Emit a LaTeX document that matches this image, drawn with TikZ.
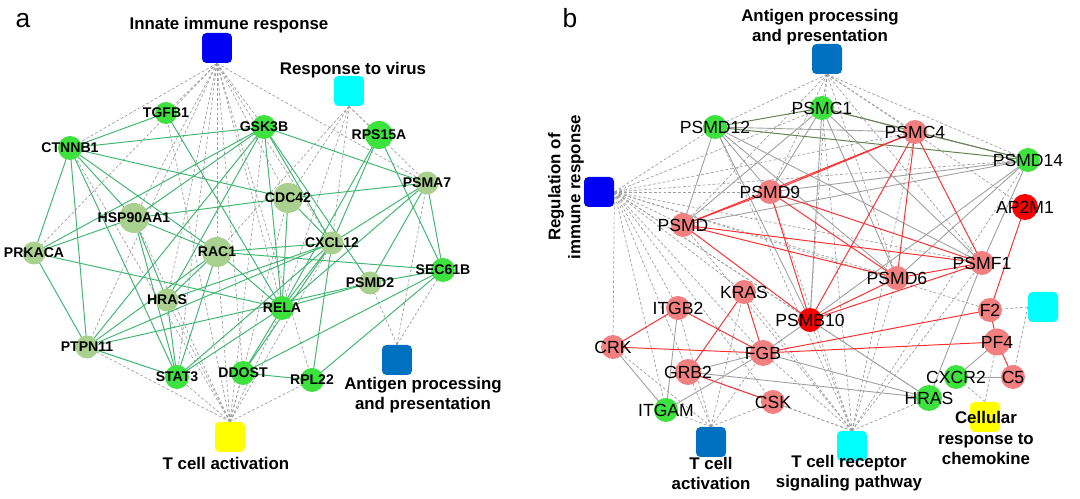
\documentclass[tikz,border=0pt]{standalone}
\usepackage{fontspec}
\setmainfont{Liberation Sans}
\usetikzlibrary{backgrounds}
\definecolor{nodegreen}{RGB}{62,226,62}
\definecolor{nodepale}{RGB}{169,208,142}
\definecolor{nodesalmon}{RGB}{242,128,128}
\definecolor{nodered}{RGB}{250,0,0}
\definecolor{boxblue}{RGB}{0,0,245}
\definecolor{boxmid}{RGB}{0,112,192}
\definecolor{boxcyan}{RGB}{0,255,255}
\definecolor{boxyellow}{RGB}{255,255,0}
\definecolor{edgegreen}{RGB}{64,182,112}
\definecolor{edgered}{RGB}{255,45,45}
\definecolor{edgeolive}{RGB}{98,128,80}
\tikzset{
  gbright/.style={circle,fill=nodegreen,minimum size=0.48cm,inner sep=0pt},
  gpale/.style={circle,fill=nodepale,minimum size=0.46cm,inner sep=0pt},
  gsal/.style={circle,fill=nodesalmon,minimum size=0.48cm,inner sep=0pt},
  gred/.style={circle,fill=nodered,minimum size=0.48cm,inner sep=0pt},
  catbox/.style={rectangle,rounded corners=2.5pt,minimum size=0.6cm,inner sep=0pt},
  alab/.style={font=\bfseries\fontsize{8}{9}\selectfont},
  blab/.style={font=\fontsize{10}{11}\selectfont},
  catlab/.style={font=\bfseries\fontsize{9.6}{11.4}\selectfont,align=center},
  gedge/.style={draw=edgegreen,line width=0.55pt},
  dedge/.style={draw=gray!75,dash pattern=on 1.6pt off 1.2pt,line width=0.4pt},
  pedge/.style={draw=gray!75,line width=0.5pt},
  redge/.style={draw=edgered,line width=0.55pt},
  oedge/.style={draw=edgeolive,line width=0.55pt}
}

\begin{document}
\begin{tikzpicture}[line join=round]
\begin{scope}[x=0.02cm,y=-0.02cm]
\path[use as bounding box] (0,0) rectangle (1080,499);
% --- panel a
\node[font=\fontsize{15}{15}\selectfont] (pa) at (23,21) {a};
\node[catbox,fill=boxblue] (innate) at (217,48) {};
\node[catlab] (innatelab) at (229,25) {Innate immune response};
\node[catbox,fill=boxcyan] (virus) at (349,91) {};
\node[catlab] (viruslab) at (353,70) {Response to virus};
\node[catbox,fill=boxmid] (antiga) at (397,360) {};
\node[catlab] (antigalab) at (423,395) {Antigen processing\\and presentation};
\node[catbox,fill=boxyellow] (tcella) at (230,437) {};
\node[catlab] (tcellalab) at (226,463) {T cell activation};
\node[gbright,minimum size=0.44cm,label={[alab]center:TGFB1}] (tgfb1) at (166,113) {};
\node[gbright,label={[alab]center:GSK3B}] (gsk3b) at (264,127) {};
\node[gbright,label={[alab]center:CTNNB1}] (ctnnb1) at (70,148) {};
\node[gbright,minimum size=0.56cm,label={[alab]center:RPS15A}] (rps15a) at (379,135) {};
\node[gpale,label={[alab]center:PSMA7}] (psma7) at (427,183) {};
\node[gpale,minimum size=0.6cm,label={[alab]center:CDC42}] (cdc42) at (288,198) {};
\node[gpale,minimum size=0.6cm,label={[alab]center:HSP90AA1}] (hsp90) at (134,218) {};
\node[gpale,minimum size=0.6cm,label={[alab]center:RAC1}] (rac1) at (217,252) {};
\node[gpale,label={[alab]center:CXCL12}] (cxcl12) at (332,243) {};
\node[gpale,label={[alab]center:PRKACA}] (prkaca) at (34,253) {};
\node[gpale,label={[alab]center:HRAS}] (hrasa) at (167,300) {};
\node[gbright,label={[alab]center:RELA}] (rela) at (282,308) {};
\node[gpale,label={[alab]center:PSMD2}] (psmd2) at (370,283) {};
\node[gbright,label={[alab]center:SEC61B}] (sec61b) at (443,270) {};
\node[gpale,label={[alab]center:PTPN11}] (ptpn11) at (87,347) {};
\node[gbright,label={[alab]center:STAT3}] (stat3) at (177,377) {};
\node[gbright,label={[alab]center:DDOST}] (ddost) at (243,373) {};
\node[gbright,label={[alab]center:RPL22}] (rpl22) at (312,380) {};
% --- panel b
\node[font=\fontsize{15}{15}\selectfont] (pb) at (570,18) {b};
\node[catbox,fill=boxmid] (antigb) at (827,59) {};
\node[catlab] (antigblab) at (820,27) {Antigen processing\\and presentation};
\node[catbox,fill=boxblue] (reg) at (599,192) {};
\node[catlab,rotate=90] (reglab) at (566,187) {Regulation of\\immune response};
\node[catbox,fill=boxmid] (tcellb) at (711,442) {};
\node[catlab] (tcellblab) at (711,473) {T cell\\activation};
\node[catbox,fill=boxcyan] (tcr) at (852,446) {};
\node[catlab] (tcrlab) at (849,473) {T cell receptor\\signaling pathway};
\node[catbox,fill=boxcyan] (cyanr) at (1043,307) {};
\node[catbox,fill=boxyellow] (cellr) at (985,417) {};
\node[catlab] (cellrlab) at (986,438) {Cellular\\response to\\chemokine};
\node[gbright,label={[blab]center:PSMC1}] (psmc1) at (822,108) {};
\node[gbright,label={[blab]center:PSMD12}] (psmd12) at (715,127) {};
\node[gsal,label={[blab]center:PSMC4}] (psmc4) at (915,132) {};
\node[gbright,label={[blab]center:PSMD14}] (psmd14) at (1028,160) {};
\node[gred,minimum size=0.52cm,label={[blab]center:AP2M1}] (ap2m1) at (1025,207) {};
\node[gsal,label={[blab]center:PSMD9}] (psmd9) at (770,192) {};
\node[gsal,label={[blab]center:PSMD}] (psmd) at (683,225) {};
\node[gsal,label={[blab]center:PSMF1}] (psmf1) at (982,263) {};
\node[gsal,label={[blab]center:PSMD6}] (psmd6) at (897,278) {};
\node[gred,label={[blab]center:PSMB10}] (psmb10) at (810,320) {};
\node[gsal,label={[blab]center:KRAS}] (kras) at (744,292) {};
\node[gsal,label={[blab]center:ITGB2}] (itgb2) at (678,308) {};
\node[gsal,label={[blab]center:CRK}] (crk) at (613,347) {};
\node[gsal,minimum size=0.52cm,label={[blab]center:FGB}] (fgb) at (763,353) {};
\node[gsal,minimum size=0.52cm,label={[blab]center:GRB2}] (grb2) at (688,372) {};
\node[gsal,label={[blab]center:CSK}] (csk) at (773,402) {};
\node[gbright,label={[blab]center:ITGAM}] (itgam) at (666,410) {};
\node[gsal,label={[blab]center:F2}] (f2) at (990,310) {};
\node[gsal,minimum size=0.54cm,label={[blab]center:PF4}] (pf4) at (997,342) {};
\node[gsal,label={[blab]center:C5}] (c5) at (1013,377) {};
\node[gbright,label={[blab]center:CXCR2}] (cxcr2) at (956,377) {};
\node[gbright,minimum size=0.52cm,label={[blab]center:HRAS}] (hrasb) at (929,398) {};
% --- connectors
\begin{scope}[on background layer]
\foreach \g in {ctnnb1,tgfb1,gsk3b,psma7,hsp90,prkaca,ptpn11,hrasa,rac1,stat3,ddost,rela,cdc42,rpl22,cxcl12}
  \draw[dedge] (innate.south) -- (\g.center);
\foreach \g in {psma7,cxcl12,rela,rac1,cdc42,rps15a}
  \draw[dedge] (virus.south) -- (\g.center);
\foreach \g in {ptpn11,stat3,ddost,rpl22,hrasa,rac1,hsp90,ctnnb1,rela,cxcl12,gsk3b,tgfb1,cdc42}
  \draw[dedge] (tcella.north) -- (\g.center);
\foreach \g in {psmd2,sec61b,psma7}
  \draw[dedge] (antiga.north) -- (\g.center);
\foreach \a/\b in {ctnnb1/tgfb1,ctnnb1/gsk3b,ctnnb1/cdc42,ctnnb1/prkaca,ctnnb1/ptpn11,ctnnb1/rac1,ctnnb1/stat3,ctnnb1/hsp90,
  tgfb1/rela,gsk3b/prkaca,gsk3b/ptpn11,gsk3b/hsp90,gsk3b/hrasa,gsk3b/psma7,gsk3b/cxcl12,gsk3b/rela,gsk3b/psmd2,
  hsp90/cdc42,hsp90/rac1,hsp90/hrasa,hsp90/stat3,hsp90/prkaca,prkaca/rela,prkaca/ptpn11,
  rac1/hrasa,rac1/rela,rac1/ptpn11,rac1/cxcl12,rac1/stat3,rac1/sec61b,hrasa/stat3,hrasa/cxcl12,
  ptpn11/stat3,ptpn11/cxcl12,ptpn11/psmd2,stat3/cxcl12,stat3/rela,ddost/rpl22,ddost/rela,ddost/cxcl12,ddost/sec61b,
  rela/cxcl12,rela/psmd2,rela/rps15a,cxcl12/cdc42,cxcl12/psma7,cxcl12/rps15a,cxcl12/rpl22,rps15a/sec61b,
  psma7/cdc42,psma7/sec61b,psma7/psmd2,psma7/rela,psmd2/sec61b,sec61b/rpl22,cdc42/rela}
  \draw[gedge] (\a.center) -- (\b.center);
\foreach \g in {psmd12,psmc1,psmc4,psmd14,psmd9,psmd,psmd6,psmb10,psmf1,ap2m1}
  \draw[dedge] (antigb.south) -- (\g.center);
\foreach \g in {psmd12,psmc1,psmc4,psmd14,psmd9,psmd,psmd6,psmf1,psmb10,kras,itgb2,crk,grb2,itgam,fgb,csk,hrasb,f2}
  \draw[dedge] (reg.east) -- (\g.center);
\foreach \g in {itgam,crk,grb2,fgb,csk,itgb2,kras}
  \draw[dedge] (tcellb.north) -- (\g.center);
\foreach \g in {psmd12,psmc1,psmd9,psmd,psmc4,psmd14,psmd6,psmf1,psmb10,hrasb,fgb,grb2,kras,csk}
  \draw[dedge] (tcr.north) -- (\g.center);
\foreach \g in {f2,c5}
  \draw[dedge] (cyanr.west) -- (\g.center);
\foreach \g in {cxcr2,pf4}
  \draw[dedge] (cellr.north) -- (\g.center);
\foreach \a/\b in {psmd12/psmd,psmd12/psmd9,psmd12/psmd6,psmd12/psmf1,psmd12/psmb10,psmd12/psmc4,
  psmc1/psmd9,psmc1/psmd,psmc1/psmd6,psmc1/psmb10,psmc1/psmf1,psmc1/psmc4,
  psmd14/psmd9,psmd14/psmd,psmd14/psmd6,psmd14/psmb10,psmd14/psmf1,psmd14/psmc4,
  crk/itgam,itgb2/itgam,itgam/fgb,grb2/fgb,grb2/hrasb,fgb/hrasb,fgb/psmb10,psmb10/hrasb,
  cxcr2/pf4,cxcr2/c5,psmf1/hrasb}
  \draw[pedge] (\a.center) -- (\b.center);
\foreach \a/\b in {psmd12/psmc1,psmd12/psmd14,psmc1/psmd14}
  \draw[oedge] (\a.center) -- (\b.center);
\foreach \a/\b in {psmd/psmc4,psmd/psmd9,psmd/psmf1,psmd/psmd6,psmd/psmb10,psmd9/psmf1,psmd9/psmb10,psmd9/psmd6,
  psmc4/psmd9,psmc4/psmb10,psmc4/psmd6,psmc4/psmf1,psmb10/psmd6,psmb10/psmf1,psmd6/psmf1,
  kras/fgb,kras/grb2,itgb2/crk,itgb2/fgb,crk/fgb,grb2/csk,fgb/f2,fgb/pf4,f2/ap2m1,f2/pf4,pf4/c5}
  \draw[redge] (\a.center) -- (\b.center);
\end{scope}
\end{scope}
\end{tikzpicture}
\end{document}
